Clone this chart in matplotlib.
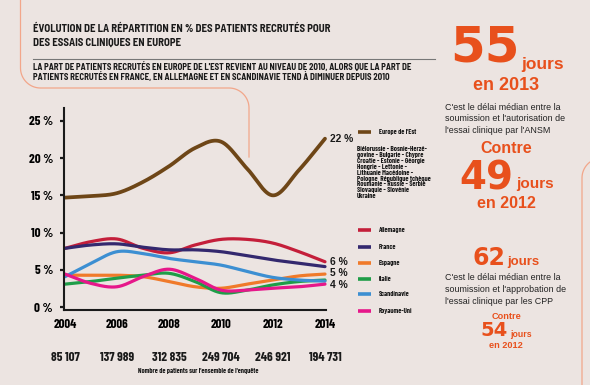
import numpy as np
import matplotlib
matplotlib.use("Agg")
import matplotlib.pyplot as plt

# ---- data ----
years = [2004, 2005, 2006, 2007, 2008, 2009, 2010, 2011, 2012, 2013, 2014]
europe_est = [14.7, 14.9, 15.3, 16.8, 18.9, 21.35, 22.2, 18.6, 15.0, 18.4, 22.6]
allemagne = [7.9, 8.8, 9.15, 7.9, 7.3, 8.35, 9.1, 9.1, 8.6, 7.45, 6.1]
france = [7.9, 8.35, 8.5, 8.05, 7.7, 7.7, 7.45, 6.9, 6.35, 5.9, 5.45]
espagne = [4.3, 4.3, 4.3, 4.1, 3.45, 2.75, 2.55, 3.1, 3.65, 4.2, 4.45]
italie = [3.1, 3.45, 3.9, 4.3, 4.55, 3.45, 1.95, 2.3, 3.0, 3.45, 3.65]
scandinavie = [4.1, 5.9, 7.45, 7.2, 6.55, 6.1, 5.65, 4.8, 4.0, 3.65, 3.5]
royaume_uni = [4.45, 3.2, 2.75, 4.1, 5.1, 3.9, 2.3, 2.3, 2.55, 2.75, 3.1]

series_names = ["Europe de l'Est", "Allemagne", "France", "Espagne", "Italie",
                "Scandinavie", "Royaume-Uni"]
series_values = [europe_est, allemagne, france, espagne, italie, scandinavie, royaume_uni]
series_colors = ["#6e4617", "#c41e3a", "#33286e", "#f07a2a", "#1f9d48", "#3c8fd2", "#e6178a"]

tick_years = [2004, 2006, 2008, 2010, 2012, 2014]
patients = ["85 107", "137 989", "312 835", "249 704", "246 921", "194 731"]
y_ticks = [0, 5, 10, 15, 20, 25]
end_labels = [("22 %", 22.6), ("6 %", 6.1), ("5 %", 4.6), ("4 %", 3.0)]

countries = ["Biélorussie - Bosnie-Herzé-", "govine - Bulgarie - Chypre",
             "Croatie - Estonie - Géorgie", "Hongrie - Lettonie -",
             "Lithuanie Macédoine -", "Pologne  République tchèque",
             "Roumanie - Russie - Serbie", "Slovaquie - Slovénie", "Ukraine"]

BG = "#ece4e1"
ORANGE = "#e8501c"
INK = "#1a1a1a"
NARROW = ["Barlow Condensed", "Liberation Sans Narrow", "DejaVu Sans"]
SEMI = ["Barlow Semi Condensed", "Barlow Condensed", "DejaVu Sans"]
ARIAL = ["Liberation Sans", "DejaVu Sans"]
BIG = ["DejaVu Sans"]


def smooth(x, y, n=30):
    # cubic Hermite spline through the points (Catmull-Rom like tangents)
    x = np.asarray(x, float)
    y = np.asarray(y, float)
    m = np.gradient(y, x)
    xs, ys = [], []
    for i in range(len(x) - 1):
        h = x[i + 1] - x[i]
        t = np.linspace(0, 1, n, endpoint=False)
        h00 = 2 * t**3 - 3 * t**2 + 1
        h10 = t**3 - 2 * t**2 + t
        h01 = -2 * t**3 + 3 * t**2
        h11 = t**3 - t**2
        xs.append(x[i] + t * h)
        ys.append(h00 * y[i] + h10 * h * m[i] + h01 * y[i + 1] + h11 * h * m[i + 1])
    xs.append([x[-1]])
    ys.append([y[-1]])
    return np.concatenate(xs), np.concatenate(ys)


fig = plt.figure(figsize=(5.9, 3.85), dpi=100)
fig.patch.set_facecolor(BG)

# overlay in pixel coordinates for decoration and free text
ov = fig.add_axes([0, 0, 1, 1])
ov.set_xlim(0, 590)
ov.set_ylim(385, 0)
ov.axis("off")
ov.patch.set_alpha(0)

# salmon frame lines
r = 20
a = np.linspace(np.pi, np.pi / 2, 20)
fx = [20.5] + list(20.5 + r + r * np.cos(a)) + [229]
fy = [0] + list(88 - r + r * np.sin(a)) + [88]
a2 = np.linspace(-np.pi / 2, 0, 20)
fx += list(229 + r * np.cos(a2)) + [249, 249]
fy += list(88 + r + r * np.sin(a2)) + [108, 157]
ov.plot(fx, fy, color="#f2a68a", lw=0.9)
a3 = np.linspace(-np.pi / 2, -np.pi, 20)
gx = list(602 + r * np.cos(a3)) + [582, 582]
gy = list(178 + r * np.sin(a3)) + [178, 385]
ov.plot(gx, gy, color="#f2a68a", lw=0.9)

# titles
ov.text(33, 29, "ÉVOLUTION DE LA RÉPARTITION EN % DES PATIENTS RECRUTÉS POUR",
        family=SEMI, weight="bold", size=7.7, va="center", color=INK)
ov.text(33, 43, "DES ESSAIS CLINIQUES EN EUROPE",
        family=SEMI, weight="bold", size=7.7, va="center", color=INK)
ov.plot([33, 435], [59, 59], color="#777777", lw=0.8)
ov.text(33, 67.5, "LA PART DE PATIENTS RECRUTÉS EN EUROPE DE L'EST REVIENT AU NIVEAU DE 2010, "
        "ALORS QUE LA PART DE", family=SEMI, weight="bold", size=6.3, va="center",
        color=INK)
ov.text(33, 77.5, "PATIENTS RECRUTÉS EN FRANCE, EN ALLEMAGNE ET EN SCANDINAVIE TEND À "
        "DIMINUER DEPUIS 2010", family=SEMI, weight="bold", size=6.3, va="center",
        color=INK)

# ---- main chart ----
ax = fig.add_axes([64 / 590, (385 - 309.5) / 385, 262 / 590, 201.4 / 385])
ax.set_facecolor("none")
ax.set_xlim(2004 - 1 / 26, 2014 + 1 / 26)
ax.set_ylim(-0.3, 26.7)
for name, vals, col in zip(series_names, series_values, series_colors):
    sx, sy = smooth(years, vals)
    lw = 2.7 if name == "Europe de l'Est" else 2.3
    ax.plot(sx, sy, color=col, lw=lw, solid_capstyle="round", clip_on=False)

for s in ["top", "right"]:
    ax.spines[s].set_visible(False)
for s in ["left", "bottom"]:
    ax.spines[s].set_linewidth(1.5)
    ax.spines[s].set_color(INK)

ax.set_yticks(y_ticks)
ax.set_yticklabels([f"{v} %" for v in y_ticks], family=NARROW, weight="bold", size=9.4)
ax.set_xticks(tick_years)
ax.set_xticklabels([str(y) for y in tick_years], family=NARROW, weight="bold", size=9.2)
ax.tick_params(axis="y", length=3, width=1.6, pad=5, color=INK)
ax.tick_params(axis="x", length=0, pad=7)

for lab, v in end_labels:
    ax.text(2014.2, v, lab, family=ARIAL, weight="bold", size=7.4, va="center",
            color=INK, clip_on=False)

xt = ax.get_xaxis_transform()
for yr, p in zip(tick_years, patients):
    ax.text(yr, -0.24, p, transform=xt, ha="center", va="center", family=NARROW,
            weight="bold", size=9.4, color=INK, clip_on=False)
ov.text(198, 371, "Nombre de patients sur l'ensemble de l'enquête", family=NARROW,
        weight="bold", size=5.0, ha="center", va="center", color=INK)

# ---- legend ----
leg_y = [132.3, 230, 246.7, 262.7, 279, 294.3, 310.7]
for name, col, ly in zip(series_names, series_colors, leg_y):
    ov.plot([358, 370.5], [ly, ly], color=col, lw=2.6, solid_capstyle="butt")
    ov.text(379, ly, name, family=NARROW, weight="bold", size=5.0, va="center",
            color=INK)
for i, c in enumerate(countries):
    ov.text(357, 149.3 + i * 5.85, c, family=NARROW, weight="bold", size=5.1,
            va="center", color=INK)

# ---- right panel ----
cxp = 506
ov.text(520, 61.5, "55", family=BIG, weight="bold", size=36, ha="right",
        va="baseline", color=ORANGE)
ov.text(521, 68.5, "jours", family=ARIAL, weight="bold", size=12.5, ha="left",
        va="baseline", color=ORANGE)
ov.text(cxp, 90, "en 2013", family=ARIAL, weight="bold", size=13, ha="center",
        va="baseline", color=ORANGE)
body1 = ["C'est le délai médian entre la", "soumission et l'autorisation de",
         "l'essai clinique par l'ANSM"]
for i, t in enumerate(body1):
    ov.text(445, 107 + i * 11.8, t, family=ARIAL, size=6.4, va="center", color="#222222")
ov.text(cxp, 153, "Contre", family=ARIAL, weight="bold", size=11.5, ha="center",
        va="baseline", color=ORANGE)
ov.text(513, 190, "49", family=BIG, weight="bold", size=28, ha="right",
        va="baseline", color=ORANGE)
ov.text(516, 188, "jours", family=ARIAL, weight="bold", size=11, ha="left",
        va="baseline", color=ORANGE)
ov.text(cxp, 208, "en 2012", family=ARIAL, weight="bold", size=11.5, ha="center",
        va="baseline", color=ORANGE)

ov.text(505, 265, "62", family=BIG, weight="bold", size=17, ha="right",
        va="baseline", color=ORANGE)
ov.text(507, 265.5, "jours", family=ARIAL, weight="bold", size=9.5, ha="left",
        va="baseline", color=ORANGE)
body2 = ["C'est le délai médian entre la", "soumission et l'approbation de",
         "l'essai clinique par les CPP"]
for i, t in enumerate(body2):
    ov.text(445, 277.5 + i * 11.8, t, family=ARIAL, size=6.4, va="center", color="#222222")
ov.text(cxp, 319, "Contre", family=ARIAL, weight="bold", size=6.6, ha="center",
        va="baseline", color=ORANGE)
ov.text(508, 336, "54", family=BIG, weight="bold", size=14, ha="right",
        va="baseline", color=ORANGE)
ov.text(510, 337, "jours", family=ARIAL, weight="bold", size=6.3, ha="left",
        va="baseline", color=ORANGE)
ov.text(cxp, 348, "en 2012", family=ARIAL, weight="bold", size=6.6, ha="center",
        va="baseline", color=ORANGE)

fig.savefig("out.png", dpi=100, facecolor=BG)
